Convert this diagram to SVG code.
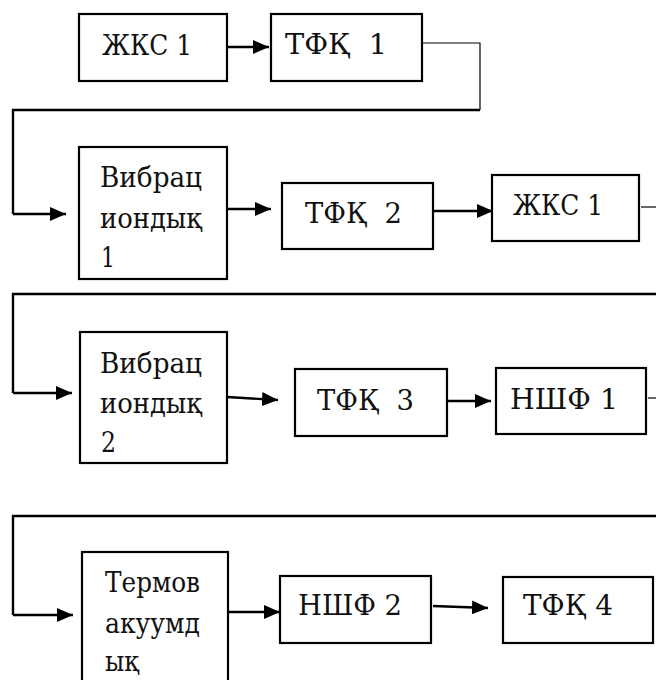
<svg xmlns="http://www.w3.org/2000/svg" width="656" height="680" viewBox="0 0 656 680">
<defs>
<marker id="ah" markerUnits="userSpaceOnUse" markerWidth="18" markerHeight="14" refX="16" refY="7" orient="auto">
<path d="M0,0 L16,7 L0,14 Z" fill="#000"/>
</marker>
<style>
.box{fill:#fff;stroke:#000;stroke-width:2.2}
.c{fill:none;stroke:#000;stroke-width:2.4}
.a{fill:none;stroke:#000;stroke-width:2.4;marker-end:url(#ah)}
.thin{fill:none;stroke:#000;stroke-width:1.2}
text{white-space:pre;fill:#111;font-size:28.5px;font-family:"DejaVu Serif","Liberation Serif",serif;font-stretch:condensed}
</style>
</defs>
<rect width="656" height="680" fill="#fff"/>
<g id="connectors">
<path class="a" d="M227,47 H269"/>
<path class="thin" d="M422,43 H480 V110"/>
<path class="c" d="M480,110 H13 V214"/>
<path class="a" d="M13,214 H66"/>
<path class="a" d="M227,209 H271"/>
<path class="a" d="M433,211 H493"/>
<path class="thin" d="M641,207 H656"/>
<path class="c" d="M656,294 H13 V393"/>
<path class="a" d="M13,393 H72"/>
<path class="a" d="M227,397 L278,400"/>
<path class="a" d="M435,401 H491"/>
<path class="thin" d="M648,398 H656"/>
<path class="c" d="M656,516 H13 V615"/>
<path class="a" d="M13,615 H73"/>
<path class="a" d="M228,612 H280"/>
<path class="a" d="M433,606 L488,608"/>
</g>
<g id="n1"><rect class="box" x="79" y="14" width="148" height="67"/><text x="102" y="55" textLength="90" lengthAdjust="spacingAndGlyphs">ЖКС 1</text></g>
<g id="n2"><rect class="box" x="271" y="14" width="151" height="67"/><text x="285" y="54" textLength="102" lengthAdjust="spacingAndGlyphs">ТФҚ  1</text></g>
<g id="n3"><rect class="box" x="79" y="147" width="148" height="132"/><text x="100" y="187" textLength="102" lengthAdjust="spacingAndGlyphs">Вибрац</text><text x="100" y="228" textLength="102" lengthAdjust="spacingAndGlyphs">иондық</text><text x="101" y="267" textLength="14" lengthAdjust="spacingAndGlyphs">1</text></g>
<g id="n4"><rect class="box" x="282" y="183" width="151" height="66"/><text x="305" y="223" textLength="97" lengthAdjust="spacingAndGlyphs">ТФҚ  2</text></g>
<g id="n5"><rect class="box" x="492" y="175" width="147" height="66"/><text x="513" y="215" textLength="90" lengthAdjust="spacingAndGlyphs">ЖКС 1</text></g>
<g id="n6"><rect class="box" x="80" y="332" width="147" height="131"/><text x="100" y="373" textLength="102" lengthAdjust="spacingAndGlyphs">Вибрац</text><text x="100" y="413" textLength="102" lengthAdjust="spacingAndGlyphs">иондық</text><text x="101" y="452" textLength="15" lengthAdjust="spacingAndGlyphs">2</text></g>
<g id="n7"><rect class="box" x="295" y="369" width="152" height="67"/><text x="317" y="410" textLength="97" lengthAdjust="spacingAndGlyphs">ТФҚ  3</text></g>
<g id="n8"><rect class="box" x="496" y="368" width="150" height="66"/><text x="510" y="409" textLength="108" lengthAdjust="spacingAndGlyphs">НШФ 1</text></g>
<g id="n9"><rect class="box" x="82" y="552" width="146" height="140"/><text x="105" y="592" textLength="95" lengthAdjust="spacingAndGlyphs">Термов</text><text x="105" y="633" textLength="95" lengthAdjust="spacingAndGlyphs">акуумд</text><text x="105" y="671" textLength="34" lengthAdjust="spacingAndGlyphs">ық</text></g>
<g id="n10"><rect class="box" x="280" y="576" width="151" height="67"/><text x="298" y="615" textLength="104" lengthAdjust="spacingAndGlyphs">НШФ 2</text></g>
<g id="n11"><rect class="box" x="503" y="577" width="150" height="66"/><text x="523" y="615" textLength="90" lengthAdjust="spacingAndGlyphs">ТФҚ 4</text></g>
</svg>
